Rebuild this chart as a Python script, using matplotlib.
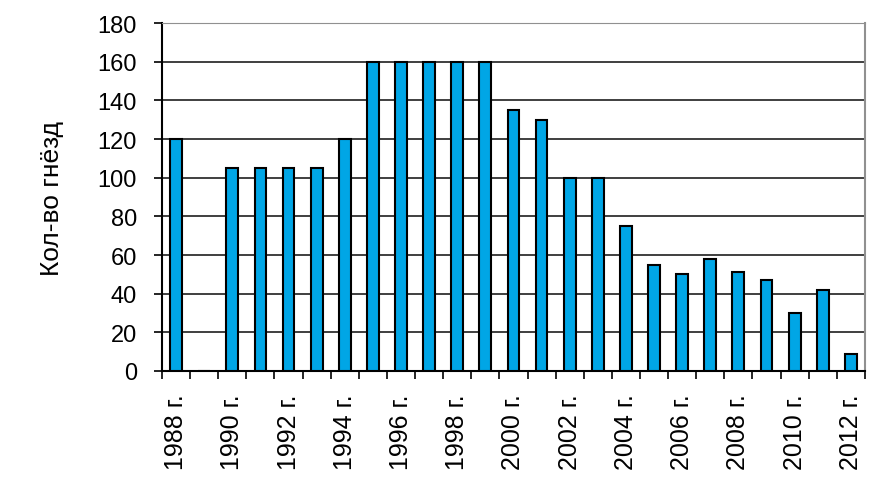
import numpy as np
import matplotlib.pyplot as plt

plt.rcParams['font.family'] = ['Liberation Sans', 'DejaVu Sans']

years = list(range(1988, 2013))
nests = [120, 0, 105, 105, 105, 105, 120, 160, 160, 160, 160, 160, 135, 130,
         100, 100, 75, 55, 50, 58, 51, 47, 30, 42, 9]
labels = [f"{y} г." for y in years]

fig = plt.figure(figsize=(8.83, 5.02), dpi=100)
ax = fig.add_axes([0.1835, 0.259, 0.796, 0.693])

x = np.arange(len(years))
ax.bar(x, nests, width=0.42, color="#00a6e6", edgecolor="black", linewidth=1.5, zorder=3)

ax.set_xlim(-0.5, len(years) - 0.5)
ax.set_ylim(0, 180)
ax.set_yticks(np.arange(0, 181, 20))
ax.yaxis.grid(True, color="#303030", linewidth=1.3, zorder=0)
ax.set_axisbelow(True)

# labels every other year, tick marks on category borders
ax.set_xticks(x[::2])
ax.set_xticklabels(labels[::2], rotation=90)
ax.set_xticks(np.arange(-0.5, len(years)), minor=True)
ax.tick_params(axis="x", which="major", length=0, pad=16, labelsize=18)
ax.tick_params(axis="x", which="minor", length=6, width=1.2, direction="out")
ax.tick_params(axis="y", length=6, width=1.2, labelsize=17, pad=12)

ax.spines["left"].set_linewidth(1.5)
ax.spines["bottom"].set_linewidth(1.5)
ax.spines["top"].set_color("#909090")
ax.spines["right"].set_color("#909090")
ax.spines["right"].set_linewidth(1.5)

ax.set_ylabel("Кол-во гнёзд", fontsize=19, labelpad=24)

fig.savefig("out.png", dpi=100)
